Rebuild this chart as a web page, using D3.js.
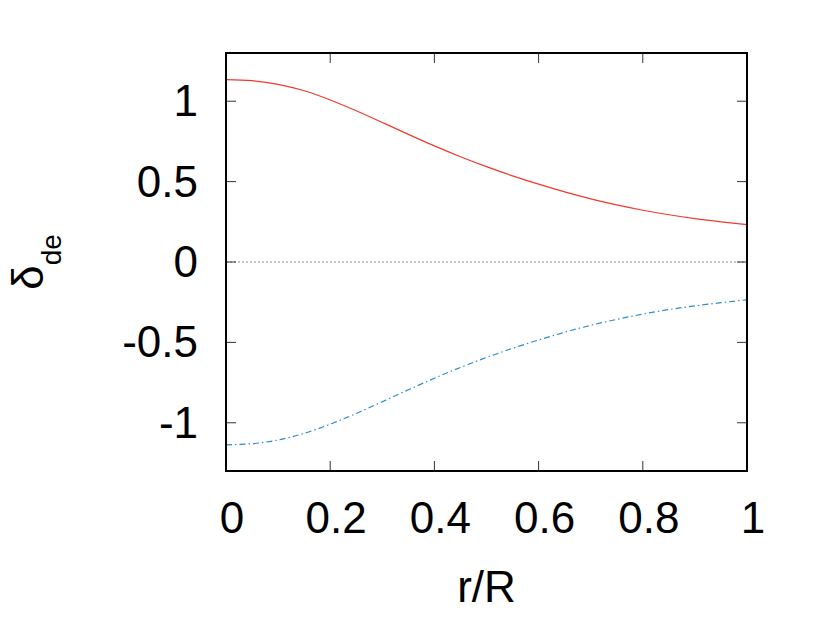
<!DOCTYPE html>
<html>
<head>
<meta charset="utf-8">
<script src="https://cdn.jsdelivr.net/npm/d3@7"></script>
<style>
  body { margin: 0; background: #fff; }
  text { font-family: "Liberation Sans", Arial, sans-serif; fill: #000; }
</style>
</head>
<body>
<div id="chart"></div>
<script>
// r/R sample positions and the two curves
var rR = [0, 0.05, 0.1, 0.15, 0.2, 0.25, 0.3, 0.35, 0.4, 0.45, 0.5, 0.55, 0.6, 0.65, 0.7, 0.75, 0.8, 0.85, 0.9, 0.95, 1];
var upper = [1.135, 1.128, 1.105, 1.065, 1.008, 0.941, 0.868, 0.794, 0.722, 0.655, 0.593, 0.536, 0.484, 0.436, 0.393, 0.355, 0.322, 0.294, 0.270, 0.250, 0.232];
var lower = [-1.137, -1.130, -1.107, -1.066, -1.009, -0.942, -0.869, -0.795, -0.723, -0.656, -0.594, -0.537, -0.485, -0.437, -0.394, -0.357, -0.324, -0.296, -0.273, -0.253, -0.235];
var xTicks = [0, 0.2, 0.4, 0.6, 0.8, 1];
var yTicks = [-1, -0.5, 0, 0.5, 1];

var width = 830, height = 620;
var margin = { top: 53, right: 83, bottom: 149, left: 226 };

var svg = d3.select("#chart").append("svg")
    .attr("width", width)
    .attr("height", height);

var x = d3.scaleLinear().domain([0, 1]).range([margin.left, width - margin.right]);
var y = d3.scaleLinear().domain([-1.3, 1.3]).range([height - margin.bottom, margin.top]);

// gnuplot style labels: plain hyphen for minus
function fmt(v) { return String(v); }

var g = svg.append("g");

// zero line
g.append("line")
    .attr("x1", x(0)).attr("x2", x(1))
    .attr("y1", y(0)).attr("y2", y(0))
    .attr("stroke", "#8a8a8a")
    .attr("stroke-width", 1)
    .attr("stroke-dasharray", "2,2");

// ticks, mirrored on all four sides
var tickLen = 10;
xTicks.forEach(function(t) {
    g.append("line").attr("x1", x(t)).attr("x2", x(t))
        .attr("y1", y(-1.3)).attr("y2", y(-1.3) - tickLen)
        .attr("stroke", "#333").attr("stroke-width", 1);
    g.append("line").attr("x1", x(t)).attr("x2", x(t))
        .attr("y1", y(1.3)).attr("y2", y(1.3) + tickLen)
        .attr("stroke", "#333").attr("stroke-width", 1);
    svg.append("text")
        .attr("x", x(t) + 6)
        .attr("y", 533)
        .attr("text-anchor", "middle")
        .attr("font-size", 44)
        .text(fmt(t));
});
yTicks.forEach(function(t) {
    g.append("line").attr("x1", x(0)).attr("x2", x(0) + tickLen)
        .attr("y1", y(t)).attr("y2", y(t))
        .attr("stroke", "#333").attr("stroke-width", 1);
    g.append("line").attr("x1", x(1)).attr("x2", x(1) - tickLen)
        .attr("y1", y(t)).attr("y2", y(t))
        .attr("stroke", "#333").attr("stroke-width", 1);
    svg.append("text")
        .attr("x", 198)
        .attr("y", y(t) + 15)
        .attr("text-anchor", "end")
        .attr("font-size", 44)
        .text(fmt(t));
});

var line = d3.line()
    .x(function(d) { return x(d[0]); })
    .y(function(d) { return y(d[1]); })
    .curve(d3.curveNatural);

g.append("path")
    .datum(d3.zip(rR, upper))
    .attr("d", line)
    .attr("fill", "none")
    .attr("stroke", "#f03a2c")
    .attr("stroke-width", 1.2);

g.append("path")
    .datum(d3.zip(rR, lower))
    .attr("d", line)
    .attr("fill", "none")
    .attr("stroke", "#2e8ccc")
    .attr("stroke-width", 1.2)
    .attr("stroke-dasharray", "6,3,1.5,3");

// frame
g.append("rect")
    .attr("x", x(0)).attr("y", y(1.3))
    .attr("width", x(1) - x(0))
    .attr("height", y(-1.3) - y(1.3))
    .attr("fill", "none")
    .attr("stroke", "#000")
    .attr("stroke-width", 2);

// axis labels
svg.append("text")
    .attr("x", (x(0) + x(1)) / 2)
    .attr("y", 602)
    .attr("text-anchor", "middle")
    .attr("font-size", 44)
    .text("r/R");

var yl = svg.append("text")
    .attr("transform", "translate(43," + y(0) + ") rotate(-90)")
    .attr("text-anchor", "middle")
    .attr("font-size", 44);
yl.append("tspan").text("δ");
yl.append("tspan").attr("font-size", 28).attr("dy", 18).text("de");
</script>
</body>
</html>
